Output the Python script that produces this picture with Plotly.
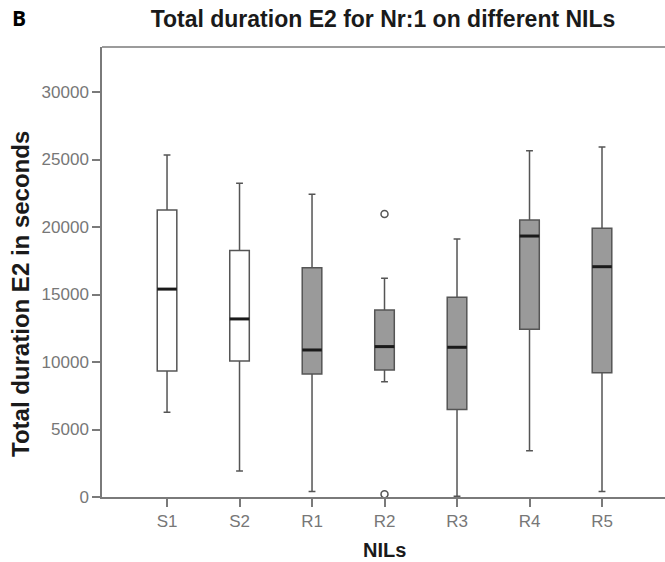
import plotly.graph_objects as go

# NIL lines and their box-plot summaries (seconds)
nils = ["S1", "S2", "R1", "R2", "R3", "R4", "R5"]
lower_whisker = [6270, 1930, 400, 8540, 50, 3430, 400]
q1 = [9330, 10070, 9110, 9410, 6490, 12420, 9210]
median = [15400, 13190, 10890, 11140, 11090, 19330, 17060]
q3 = [21260, 18250, 16990, 13850, 14790, 20520, 19900]
upper_whisker = [25330, 23240, 22420, 16200, 19110, 25650, 25930]

# outlying observations
outlier_nil = ["R2", "R2"]
outlier_value = [20960, 200]

fill_colors = ["#ffffff", "#ffffff", "#9a9a9a", "#9a9a9a", "#9a9a9a", "#9a9a9a", "#9a9a9a"]

BOX_W = 0.27
FONT = "Liberation Sans, Arial, sans-serif"
AXIS_GREY = "#7a7a7a"

fig = go.Figure()
for i, name in enumerate(nils):
    fig.add_trace(go.Box(
        x=[name],
        q1=[q1[i]], median=[median[i]], q3=[q3[i]],
        lowerfence=[lower_whisker[i]], upperfence=[upper_whisker[i]],
        width=BOX_W, whiskerwidth=0.35,
        fillcolor=fill_colors[i],
        line=dict(color="#555555", width=1.5),
        boxpoints=False, showlegend=False, hoverinfo="skip",
    ))

fig.add_trace(go.Scatter(
    x=outlier_nil, y=outlier_value, mode="markers",
    marker=dict(symbol="circle-open", size=7, color="#555555", line=dict(width=1.5)),
    showlegend=False, hoverinfo="skip",
))

# thick black median bars
shapes = []
for i, name in enumerate(nils):
    shapes.append(dict(
        type="line", xref="x", yref="y", layer="above",
        x0=i - BOX_W / 2, x1=i + BOX_W / 2, y0=median[i], y1=median[i],
        line=dict(color="#1a1a1a", width=3),
    ))
# top frame line
shapes.append(dict(
    type="line", xref="paper", yref="paper", layer="above",
    x0=0, x1=1, y0=1, y1=1, line=dict(color=AXIS_GREY, width=1.5),
))

fig.update_layout(
    width=665, height=562,
    margin=dict(l=102, r=0, t=47, b=65),
    paper_bgcolor="white", plot_bgcolor="white",
    font=dict(family=FONT, color="#777777"),
    title=dict(
        text="<b>Total duration E2 for Nr:1 on different NILs</b>",
        font=dict(family=FONT, size=23, color="#1a1a1a"),
        x=383 / 665, xref="container", xanchor="center",
        y=1 - 19 / 562, yref="container", yanchor="middle",
    ),
    shapes=shapes,
    annotations=[
        dict(text="<b>B</b>", xref="paper", yref="paper",
             x=-92 / 563, y=1 + 29 / 450, xanchor="left", yanchor="middle",
             showarrow=False, font=dict(family="Open Sans, sans-serif", size=21, color="#000000")),
        dict(text="<b>Total duration E2 in seconds</b>", xref="paper", yref="paper",
             x=-82 / 563, y=(497 - 294) / 450, xanchor="center", yanchor="middle",
             textangle=-90, showarrow=False,
             font=dict(family=FONT, size=24, color="#1a1a1a")),
        dict(text="<b>NILs</b>", xref="paper", yref="paper",
             x=(384 - 102) / 563, y=-(550 - 497) / 450, xanchor="center", yanchor="middle",
             showarrow=False, font=dict(family=FONT, size=20, color="#1a1a1a")),
    ],
)

fig.update_xaxes(
    type="category", categoryorder="array", categoryarray=nils,
    range=[-0.897, 6.869],
    showline=True, linecolor=AXIS_GREY, linewidth=1.5, mirror=False,
    ticks="outside", ticklen=8, tickcolor=AXIS_GREY, tickwidth=1.5,
    tickfont=dict(size=17, color="#777777"),
    showgrid=False, zeroline=False,
)
fig.update_yaxes(
    range=[0, 33333],
    tickvals=[0, 5000, 10000, 15000, 20000, 25000, 30000],
    ticktext=["0", "5000", "10000", "15000", "20000", "25000", "30000"],
    showline=True, linecolor=AXIS_GREY, linewidth=1.5, mirror=False,
    ticks="outside", ticklen=8, tickcolor=AXIS_GREY, tickwidth=1.5,
    tickfont=dict(size=17, color="#777777"),
    showgrid=False, zeroline=False,
)

fig.write_html("out.html")
